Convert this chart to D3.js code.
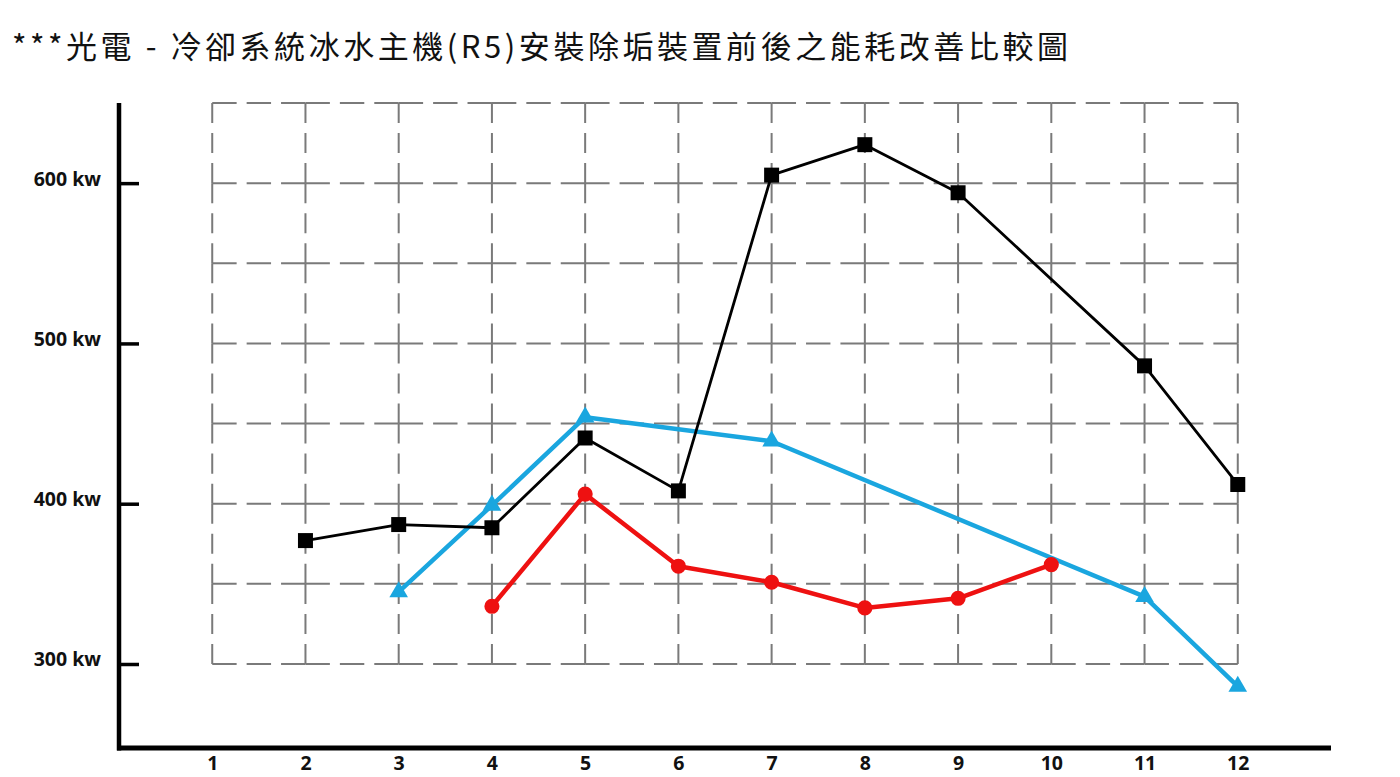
<!DOCTYPE html>
<html>
<head>
<meta charset="utf-8">
<script src="https://cdn.jsdelivr.net/npm/d3@7"></script>
<style>
  html, body { margin: 0; padding: 0; background: #fff; }
  svg { display: block; }
</style>
</head>
<body>
<svg id="chart" width="1400" height="777"></svg>
<script>
// chart text
var titleText = "***光電 - 冷卻系統冰水主機(R5)安裝除垢裝置前後之能耗改善比較圖";

// months on the x axis
var months = [1, 2, 3, 4, 5, 6, 7, 8, 9, 10, 11, 12];
// y tick labels (kw) and grid levels
var yTicks = [300, 400, 500, 600];
var gridLevels = [300, 350, 400, 450, 500, 550, 600, 650];

// series values per month, null = no reading
var blackValues = [null, 377, 387, 385, 441, 408, 605, 624, 594, null, 486, 412];
var blueValues = [null, null, 345, 399, 454, null, 439, null, null, null, 342, 286];
var redValues = [null, null, null, 336, 406, 361, 351, 335, 341, 362, null, null];

var svg = d3.select("#chart");

var x = d3.scaleLinear().domain([0, 13]).range([119, 1331]);
var y = d3.scaleLinear().domain([300, 650]).range([664, 103]);

// title (stretched to the width it has in the picture)
svg.append("text")
    .attr("x", 12)
    .attr("y", 58)
    .attr("textLength", 1056)
    .attr("lengthAdjust", "spacing")
    .style("font-family", "'Noto Sans CJK TC', 'Noto Sans CJK SC', sans-serif")
    .style("font-size", "31px")
    .style("fill", "#111")
    .text(titleText);

// dashed grid, each cell edge drawn on its own so the nodes get a cross
var grid = svg.append("g").attr("class", "grid");
function dashFor(len) {
    var gap = 10;
    var d = (len - 2 * gap) / 3;
    return d + "," + gap + "," + d + "," + gap + "," + d;
}
months.forEach(function (m) {
    for (var i = 0; i < gridLevels.length - 1; i++) {
        var y1 = y(gridLevels[i]), y2 = y(gridLevels[i + 1]);
        grid.append("line")
            .attr("x1", x(m)).attr("x2", x(m))
            .attr("y1", y1).attr("y2", y2)
            .attr("stroke", "#7a7a7a")
            .attr("stroke-width", 2)
            .attr("stroke-dasharray", dashFor(Math.abs(y1 - y2)));
    }
});
gridLevels.forEach(function (v) {
    for (var i = 0; i < months.length - 1; i++) {
        var x1 = x(months[i]), x2 = x(months[i + 1]);
        grid.append("line")
            .attr("x1", x1).attr("x2", x2)
            .attr("y1", y(v)).attr("y2", y(v))
            .attr("stroke", "#7a7a7a")
            .attr("stroke-width", 2)
            .attr("stroke-dasharray", dashFor(x2 - x1));
    }
});

// axes
var axisY = 748;
var yAxis = d3.axisLeft(y)
    .tickValues(yTicks)
    .tickSize(-20)
    .tickPadding(18)
    .tickFormat(function (d) { return d + " kw"; });
var gy = svg.append("g")
    .attr("transform", "translate(" + x(0) + ",0)")
    .call(yAxis);
gy.select(".domain").remove();
gy.selectAll(".tick line").attr("stroke", "#000").attr("stroke-width", 3.5);
gy.selectAll(".tick text")
    .attr("dy", "0.1em")
    .style("font-family", "'Open Sans', sans-serif")
    .style("font-weight", "700")
    .style("font-size", "19.5px")
    .style("fill", "#111");

// month labels sit right at the bottom edge, as in the picture
var xAxis = d3.axisBottom(x)
    .tickValues(months)
    .tickSize(0)
    .tickPadding(8);
var gx = svg.append("g")
    .attr("transform", "translate(0," + axisY + ")")
    .call(xAxis);
gx.select(".domain").remove();
gx.selectAll(".tick text")
    .style("font-family", "'Open Sans', sans-serif")
    .style("font-weight", "700")
    .style("font-size", "19.5px")
    .style("fill", "#111");

svg.append("line")
    .attr("x1", x(0)).attr("x2", x(0))
    .attr("y1", y(650)).attr("y2", axisY + 2.5)
    .attr("stroke", "#000").attr("stroke-width", 4.5);
svg.append("line")
    .attr("x1", x(0) - 2).attr("x2", x(13))
    .attr("y1", axisY).attr("y2", axisY)
    .attr("stroke", "#000").attr("stroke-width", 5);

// series
function points(values) {
    var pts = [];
    values.forEach(function (v, i) {
        if (v != null) pts.push({ m: months[i], v: v });
    });
    return pts;
}
var line = d3.line()
    .x(function (d) { return x(d.m); })
    .y(function (d) { return y(d.v); });

function drawSeries(values, color, width, symbol, size) {
    var pts = points(values);
    var g = svg.append("g");
    g.append("path")
        .datum(pts)
        .attr("d", line)
        .attr("fill", "none")
        .attr("stroke", color)
        .attr("stroke-width", width)
        .attr("stroke-linejoin", "round");
    g.selectAll("path.marker")
        .data(pts)
        .enter().append("path")
        .attr("class", "marker")
        .attr("transform", function (d) { return "translate(" + x(d.m) + "," + y(d.v) + ")"; })
        .attr("d", d3.symbol().type(symbol).size(size))
        .attr("fill", color);
}

drawSeries(blueValues, "#1aa6df", 4.5, d3.symbolTriangle, 150);
drawSeries(blackValues, "#000", 2.8, d3.symbolSquare, 225);
drawSeries(redValues, "#ee1111", 4.5, d3.symbolCircle, 180);
</script>
</body>
</html>
